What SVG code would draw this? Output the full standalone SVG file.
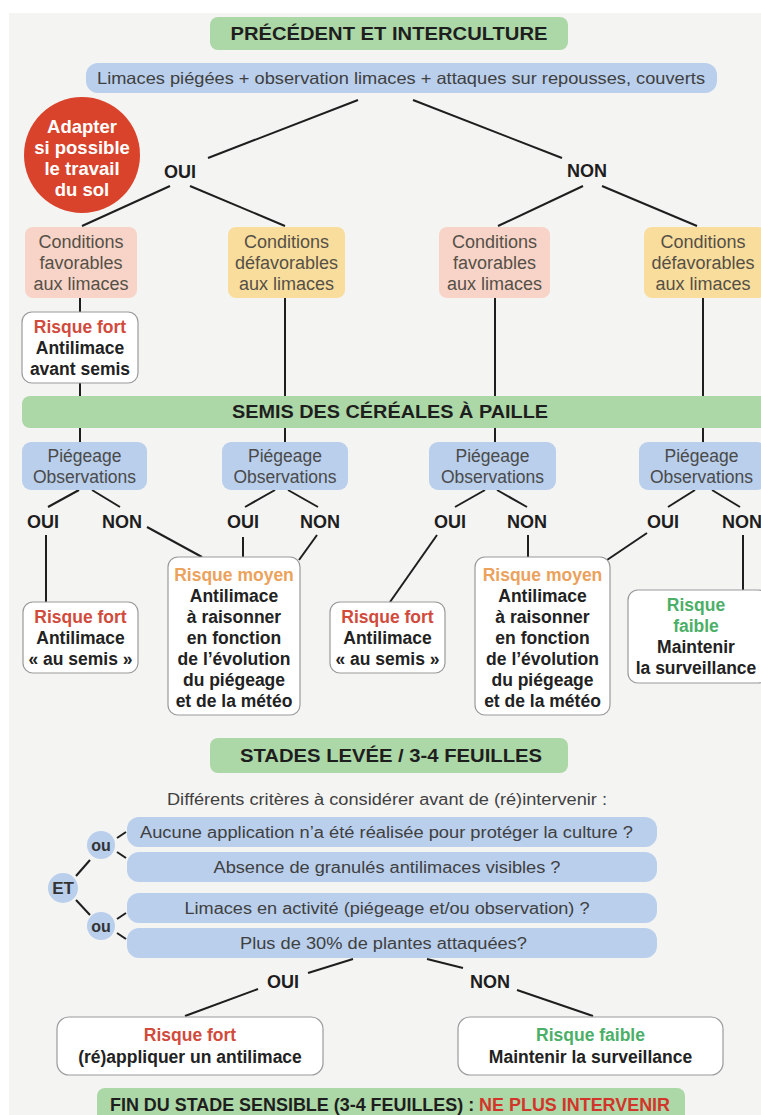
<svg xmlns="http://www.w3.org/2000/svg" width="761" height="1115" viewBox="0 0 761 1115">
<style>
.t{font-family:"Liberation Sans",Arial,sans-serif;text-anchor:middle}
.b{font-weight:bold}
.green{fill:#acd7a6}
.blue{fill:#b9cfec}
.pink{fill:#f7d4c7}
.yel{fill:#f9dd9c}
.risk{fill:#ffffff;stroke:#9a9a9a;stroke-width:1.2}
.hd{font-size:18px;font-weight:bold;fill:#1e1e1e}
.lab{font-size:18px;font-weight:bold;fill:#1e1e1e}
.cond{font-size:18px;fill:#555047}
.pie{font-size:17.5px;fill:#4a4a4a}
.rk{font-size:17.5px;font-weight:bold;fill:#222}
.red{fill:#d14b3c}
.ora{fill:#eba25c}
.grn{fill:#4caf68}
.crit{font-size:16px;fill:#404040}
#connectors line{stroke:#1e1e1e;stroke-width:2}
</style>
<rect x="0" y="0" width="761" height="1115" fill="#ffffff"/>
<rect x="9" y="13" width="752" height="1102" fill="#f4f4f3"/>

<g id="connectors">
<line x1="358" y1="100" x2="208" y2="158"/>
<line x1="413" y1="100" x2="562" y2="158"/>
<line x1="170" y1="186" x2="82" y2="226"/>
<line x1="190" y1="186" x2="285" y2="226"/>
<line x1="583" y1="186" x2="498" y2="226"/>
<line x1="602" y1="186" x2="697" y2="226"/>
<line x1="80" y1="298" x2="80" y2="312"/>
<line x1="80" y1="383" x2="80" y2="396"/>
<line x1="285" y1="298" x2="285" y2="396"/>
<line x1="495" y1="298" x2="495" y2="396"/>
<line x1="703" y1="298" x2="703" y2="396"/>
<line x1="80" y1="428" x2="80" y2="442"/>
<line x1="285" y1="428" x2="285" y2="442"/>
<line x1="495" y1="428" x2="495" y2="442"/>
<line x1="703" y1="428" x2="703" y2="442"/>
<line x1="79" y1="490" x2="48" y2="507"/>
<line x1="92" y1="490" x2="120" y2="507"/>
<line x1="275" y1="490" x2="245" y2="507"/>
<line x1="288" y1="490" x2="318" y2="507"/>
<line x1="485" y1="490" x2="455" y2="507"/>
<line x1="497" y1="490" x2="527" y2="507"/>
<line x1="695" y1="490" x2="668" y2="507"/>
<line x1="712" y1="490" x2="740" y2="507"/>
<line x1="46" y1="535" x2="46" y2="602"/>
<line x1="147" y1="527" x2="202" y2="557"/>
<line x1="243" y1="537" x2="243" y2="557"/>
<line x1="317" y1="535" x2="299" y2="560"/>
<line x1="437" y1="535" x2="390" y2="602"/>
<line x1="528" y1="535" x2="528" y2="557"/>
<line x1="647" y1="533" x2="607" y2="560"/>
<line x1="743" y1="535" x2="743" y2="590"/>
<line x1="117" y1="838" x2="126" y2="832"/>
<line x1="117" y1="852" x2="126" y2="858"/>
<line x1="76" y1="876" x2="90" y2="860"/>
<line x1="76" y1="900" x2="90" y2="915"/>
<line x1="117" y1="919" x2="126" y2="913"/>
<line x1="117" y1="933" x2="126" y2="939"/>
<line x1="353" y1="959" x2="308" y2="973"/>
<line x1="258" y1="989" x2="185" y2="1016"/>
<line x1="427" y1="959" x2="463" y2="968"/>
<line x1="517" y1="990" x2="593" y2="1016"/>
</g>

<g id="title1"><rect class="green" x="210" y="17" width="358" height="33" rx="8"/><text class="t hd" x="389" y="40" textLength="317" lengthAdjust="spacingAndGlyphs">PRÉCÉDENT ET INTERCULTURE</text></g>
<g id="obs1"><rect class="blue" x="86" y="63" width="631" height="30" rx="12"/><text class="t crit" x="401" y="84" style="font-size:16.5px" textLength="608" lengthAdjust="spacingAndGlyphs">Limaces piégées + observation limaces + attaques sur repousses, couverts</text></g>
<g id="adapter"><circle cx="82" cy="155" r="58" fill="#d9432b"/>
<text class="t b" x="82" y="133" font-size="18.5" fill="#ffffff">Adapter</text>
<text class="t b" x="82" y="154" font-size="18.5" fill="#ffffff">si possible</text>
<text class="t b" x="82" y="175" font-size="18.5" fill="#ffffff">le travail</text>
<text class="t b" x="82" y="196" font-size="18.5" fill="#ffffff">du sol</text></g>
<g id="oui1"><text class="t lab" x="180" y="178">OUI</text></g>
<g id="non1"><text class="t lab" x="587" y="177">NON</text></g>

<g id="cond1"><rect class="pink" x="25" y="227" width="112" height="71" rx="8"/>
<text class="t cond" x="81" y="248">Conditions</text><text class="t cond" x="81" y="269">favorables</text><text class="t cond" x="81" y="290">aux limaces</text></g>
<g id="cond2"><rect class="yel" x="228" y="227" width="117" height="71" rx="8"/>
<text class="t cond" x="286.5" y="248">Conditions</text><text class="t cond" x="286.5" y="269">défavorables</text><text class="t cond" x="286.5" y="290">aux limaces</text></g>
<g id="cond3"><rect class="pink" x="439" y="227" width="111" height="71" rx="8"/>
<text class="t cond" x="494.5" y="248">Conditions</text><text class="t cond" x="494.5" y="269">favorables</text><text class="t cond" x="494.5" y="290">aux limaces</text></g>
<g id="cond4"><rect class="yel" x="644" y="227" width="122" height="71" rx="8"/>
<text class="t cond" x="703" y="248">Conditions</text><text class="t cond" x="703" y="269">défavorables</text><text class="t cond" x="703" y="290">aux limaces</text></g>

<g id="risk0"><rect class="risk" x="22" y="312" width="116" height="71" rx="10"/>
<text class="t rk red" x="80" y="333">Risque fort</text><text class="t rk" x="80" y="354">Antilimace</text><text class="t rk" x="80" y="375">avant semis</text></g>

<g id="semis"><rect class="green" x="22" y="396" width="750" height="32" rx="8"/><text class="t hd" x="390" y="418" textLength="316" lengthAdjust="spacingAndGlyphs">SEMIS DES CÉRÉALES À PAILLE</text></g>

<g id="pieg1"><rect class="blue" x="22" y="442" width="125" height="48" rx="9"/><text class="t pie" x="84.5" y="462">Piégeage</text><text class="t pie" x="84.5" y="483">Observations</text></g>
<g id="pieg2"><rect class="blue" x="222" y="442" width="126" height="48" rx="9"/><text class="t pie" x="285" y="462">Piégeage</text><text class="t pie" x="285" y="483">Observations</text></g>
<g id="pieg3"><rect class="blue" x="429" y="442" width="127" height="48" rx="9"/><text class="t pie" x="492.5" y="462">Piégeage</text><text class="t pie" x="492.5" y="483">Observations</text></g>
<g id="pieg4"><rect class="blue" x="639" y="442" width="127" height="48" rx="9"/><text class="t pie" x="701.5" y="462">Piégeage</text><text class="t pie" x="701.5" y="483">Observations</text></g>

<g id="labels2">
<text class="t lab" x="43" y="528">OUI</text><text class="t lab" x="122" y="528">NON</text>
<text class="t lab" x="243" y="528">OUI</text><text class="t lab" x="320" y="528">NON</text>
<text class="t lab" x="450" y="528">OUI</text><text class="t lab" x="527" y="528">NON</text>
<text class="t lab" x="663" y="528">OUI</text><text class="t lab" x="742" y="528">NON</text>
</g>

<g id="risk1"><rect class="risk" x="23" y="602" width="115" height="71" rx="10"/>
<text class="t rk red" x="80.5" y="623">Risque fort</text><text class="t rk" x="80.5" y="644">Antilimace</text><text class="t rk" x="80.5" y="665">« au semis »</text></g>
<g id="risk2"><rect class="risk" x="168" y="557" width="132" height="158" rx="10"/>
<text class="t rk ora" x="234" y="581">Risque moyen</text><text class="t rk" x="234" y="602">Antilimace</text><text class="t rk" x="234" y="623">à raisonner</text><text class="t rk" x="234" y="644">en fonction</text><text class="t rk" x="234" y="665">de l’évolution</text><text class="t rk" x="234" y="686">du piégeage</text><text class="t rk" x="234" y="707">et de la météo</text></g>
<g id="risk3"><rect class="risk" x="330" y="602" width="115" height="71" rx="10"/>
<text class="t rk red" x="387.5" y="623">Risque fort</text><text class="t rk" x="387.5" y="644">Antilimace</text><text class="t rk" x="387.5" y="665">« au semis »</text></g>
<g id="risk4"><rect class="risk" x="475" y="557" width="135" height="158" rx="10"/>
<text class="t rk ora" x="542.5" y="581">Risque moyen</text><text class="t rk" x="542.5" y="602">Antilimace</text><text class="t rk" x="542.5" y="623">à raisonner</text><text class="t rk" x="542.5" y="644">en fonction</text><text class="t rk" x="542.5" y="665">de l’évolution</text><text class="t rk" x="542.5" y="686">du piégeage</text><text class="t rk" x="542.5" y="707">et de la météo</text></g>
<g id="risk5"><rect class="risk" x="628" y="590" width="140" height="93" rx="10"/>
<text class="t rk grn" x="696" y="611">Risque</text><text class="t rk grn" x="696" y="632">faible</text><text class="t rk" x="696" y="653">Maintenir</text><text class="t rk" x="696" y="674">la surveillance</text></g>

<g id="stades"><rect class="green" x="210" y="738" width="358" height="35" rx="8"/><text class="t hd" x="391" y="762" textLength="302" lengthAdjust="spacingAndGlyphs">STADES LEVÉE / 3-4 FEUILLES</text></g>
<g id="criteres"><text class="t crit" x="387" y="805" textLength="440" lengthAdjust="spacingAndGlyphs">Différents critères à considérer avant de (ré)intervenir :</text></g>

<g id="crit1"><rect class="blue" x="127" y="817" width="530" height="30" rx="12"/><text class="t crit" x="386.5" y="838" textLength="493" lengthAdjust="spacingAndGlyphs">Aucune application n’a été réalisée pour protéger la culture  ?</text></g>
<g id="crit2"><rect class="blue" x="127" y="852" width="530" height="30" rx="12"/><text class="t crit" x="387" y="873" textLength="347" lengthAdjust="spacingAndGlyphs">Absence de granulés antilimaces visibles ?</text></g>
<g id="crit3"><rect class="blue" x="127" y="893" width="530" height="30" rx="12"/><text class="t crit" x="387" y="914" textLength="405" lengthAdjust="spacingAndGlyphs">Limaces en activité (piégeage et/ou observation) ?</text></g>
<g id="crit4"><rect class="blue" x="127" y="928" width="530" height="30" rx="12"/><text class="t crit" x="383.5" y="949" textLength="287" lengthAdjust="spacingAndGlyphs">Plus de 30% de plantes attaquées?</text></g>

<g id="ou1"><circle class="blue" cx="101" cy="845" r="14"/><text class="t b" x="101" y="851" font-size="16" fill="#333">ou</text></g>
<g id="et"><circle class="blue" cx="63" cy="888" r="15"/><text class="t b" x="63" y="894" font-size="17" fill="#333">ET</text></g>
<g id="ou2"><circle class="blue" cx="101" cy="926" r="14"/><text class="t b" x="101" y="932" font-size="16" fill="#333">ou</text></g>

<g id="oui3"><text class="t lab" x="283" y="988">OUI</text></g>
<g id="non3"><text class="t lab" x="490" y="988">NON</text></g>

<g id="riskF"><rect class="risk" x="57" y="1017" width="266" height="58" rx="12"/>
<text class="t rk red" x="190" y="1041">Risque fort</text><text class="t rk" x="190" y="1063">(ré)appliquer un antilimace</text></g>
<g id="riskG"><rect class="risk" x="458" y="1017" width="265" height="58" rx="12"/>
<text class="t rk grn" x="590.5" y="1041">Risque faible</text><text class="t rk" x="590.5" y="1063">Maintenir la surveillance</text></g>

<g id="fin"><rect class="green" x="97" y="1088" width="588" height="40" rx="8"/>
<text class="t hd" x="390" y="1111" font-size="17" textLength="560" lengthAdjust="spacingAndGlyphs">FIN DU STADE SENSIBLE (3-4 FEUILLES) : <tspan fill="#d2362a">NE PLUS INTERVENIR</tspan></text></g>
</svg>
